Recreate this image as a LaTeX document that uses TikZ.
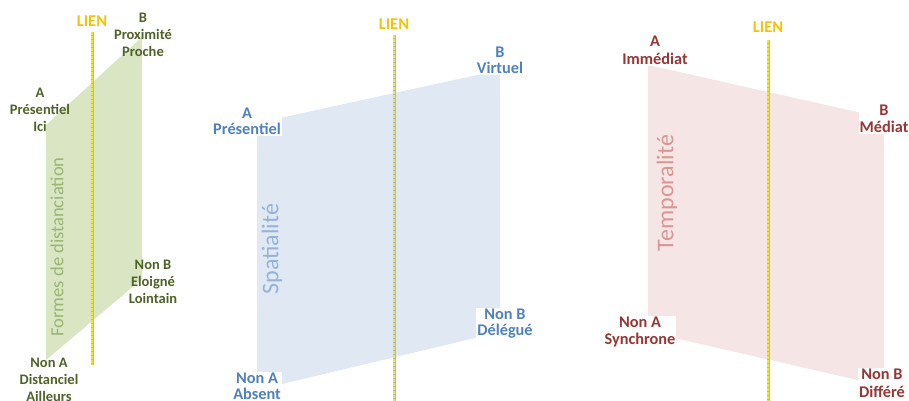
\documentclass[tikz,border=0pt]{standalone}
\usepackage{fontspec}
\setmainfont{Carlito}
\definecolor{gfill}{HTML}{D9E5C3}
\definecolor{gtext}{HTML}{4F6228}
\definecolor{grot}{HTML}{9BB470}
\definecolor{bfill}{HTML}{DFE8F3}
\definecolor{btext}{HTML}{4F81BD}
\definecolor{brot}{HTML}{95B3D7}
\definecolor{rfill}{HTML}{F5E6E5}
\definecolor{rtext}{HTML}{953735}
\definecolor{rrot}{HTML}{D99694}
\definecolor{lien}{HTML}{F4C20D}
\definecolor{lienyel}{HTML}{F0E63A}
\definecolor{liengray}{HTML}{B9B9A8}
\begin{document}
\begin{tikzpicture}[x=1pt,y=-1pt,
  lblL/.style={align=center, inner sep=1pt, text=gtext, font=\bfseries\fontsize{14.5}{17}\selectfont},
  lblM/.style={align=center, inner sep=1pt, fill=white, text=btext, font=\bfseries\fontsize{16.3}{15.5}\selectfont},
  lblR/.style={align=center, inner sep=1pt, fill=white, text=rtext, font=\bfseries\fontsize{16.3}{17.5}\selectfont},
  rot/.style={rotate=90, inner sep=0pt},
  lienlbl/.style={text=lien, inner sep=1pt, font=\bfseries\fontsize{16.5}{18}\selectfont},
  lienbase/.style={draw=liengray, line width=3pt},
  liendash/.style={draw=lienyel, line width=2.2pt, dash pattern=on 2.6pt off 1.4pt}
]
\useasboundingbox (0,0) rectangle (909,400);

% planes
\fill[gfill] (46,125) -- (142,37) -- (142,279) -- (46,360) -- cycle;
\fill[bfill] (257,123) -- (500,70) -- (500,332) -- (257,390) -- cycle;
\fill[rfill] (648,65) -- (884,118) -- (884,386) -- (648,332) -- cycle;

% rotated titles
\node[rot, text=grot, font=\fontsize{18.5}{20}\selectfont] (tG) at (57,247) {Formes de distanciation};
\node[rot, text=brot, font=\fontsize{24}{26}\selectfont] (tB) at (272,249) {Spatialité};
\node[rot, text=rrot, font=\fontsize{24}{26}\selectfont] (tR) at (667,193) {Temporalité};

% LIEN labels and lines
\node[lienlbl] (lienL) at (92,21) {LIEN};
\node[lienlbl] (lienM) at (394,24) {LIEN};
\node[lienlbl] (lienR) at (768,27) {LIEN};
\coordinate (botL) at (92,365);
\coordinate (botM) at (394,402);
\coordinate (botR) at (768,402);
\coordinate (topL) at (92,32);
\coordinate (topM) at (394,35);
\coordinate (topR) at (768,40);
\foreach \t/\b in {topL/botL,topM/botM,topR/botR}{
  \draw[lienbase] (\t) -- (\b);
  \draw[liendash] (\t) -- (\b);
}

% left labels
\node[lblL] (aL) at (40,110) {A\\Présentiel\\Ici};
\node[lblL] (bL) at (143,35) {B\\Proximité\\Proche};
\node[lblL] (nbL) at (153,282) {Non B\\Eloigné\\Lointain};
\node[lblL] (naL) at (49,380) {Non A\\Distanciel\\Ailleurs};

% middle labels
\node[lblM] (aM) at (247,121.5) {A\\Présentiel};
\node[lblM] (bM) at (500,60.5) {B\\Virtuel};
\node[lblM] (nbM) at (505,323.5) {Non B\\Délégué};
\node[lblM] (naM) at (257,386.5) {Non A\\Absent};

% right labels
\node[lblR] (aR) at (655,50.5) {A\\Immédiat};
\node[lblR] (bR) at (884,119) {B\\Médiat};
\node[lblR] (naR) at (640,332) {Non A\\Synchrone};
\node[lblR] (nbR) at (882,383.5) {Non B\\Différé};
\end{tikzpicture}
\end{document}
